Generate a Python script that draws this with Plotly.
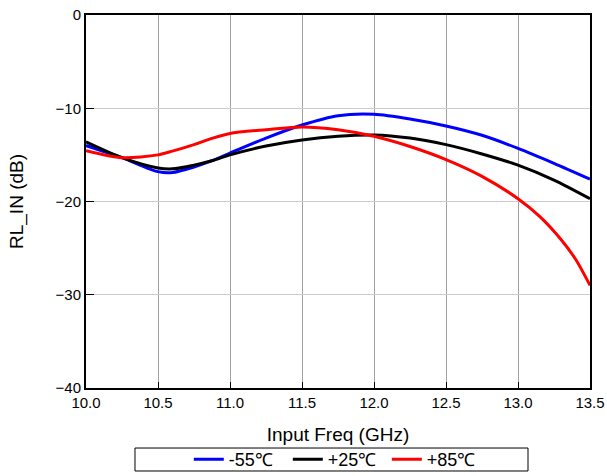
import plotly.graph_objects as go

freq = [10.0, 10.25, 10.5, 10.6, 10.75, 10.88, 11.0, 11.25, 11.5, 11.75, 12.0, 12.25, 12.5, 12.75, 13.0, 13.25, 13.5]
rl_m55 = [-14.0, -15.3, -16.8, -16.9, -16.3, -15.6, -14.8, -13.2, -11.8, -10.8, -10.65, -11.15, -11.9, -12.9, -14.3, -15.9, -17.6]
rl_p25 = [-13.6, -15.3, -16.4, -16.5, -16.1, -15.6, -15.0, -14.05, -13.4, -13.0, -12.87, -13.2, -13.9, -14.9, -16.1, -17.7, -19.7]

freq_85 = [10.0, 10.25, 10.5, 10.6, 10.75, 10.88, 11.0, 11.25, 11.5, 11.75, 12.0, 12.25, 12.5, 12.75, 13.0, 13.15, 13.3, 13.4, 13.5]
rl_p85 = [-14.55, -15.3, -15.0, -14.6, -13.9, -13.2, -12.7, -12.3, -12.0, -12.3, -13.0, -14.1, -15.5, -17.3, -19.7, -21.6, -24.1, -26.2, -29.0]

series = [("-55℃", freq, rl_m55, "#0000ff"), ("+25℃", freq, rl_p25, "#000000"), ("+85℃", freq_85, rl_p85, "#ff0000")]

fig = go.Figure()
for name, xs, vals, col in series:
    fig.add_trace(go.Scatter(x=xs, y=vals, mode="lines", name=name,
                             line=dict(color=col, width=3, shape="spline", smoothing=0.8)))

font = "Liberation Sans, Arial, sans-serif"
fig.add_shape(type="rect", xref="paper", yref="paper",
              x0=0.0972, x1=0.877, y0=-0.2225, y1=-0.1609,
              line=dict(color="black", width=1), fillcolor="rgba(0,0,0,0)")
fig.update_layout(
    width=607, height=476,
    margin=dict(l=86, r=17, t=15, b=88, autoexpand=False),
    paper_bgcolor="white", plot_bgcolor="white",
    font=dict(family=font, size=15, color="black"),
    showlegend=True,
    legend=dict(orientation="h", x=0.204, xanchor="left", y=-0.1917, yanchor="middle",
                borderwidth=0, bgcolor="rgba(0,0,0,0)", font=dict(size=18, family=font),
                entrywidth=54, entrywidthmode="pixels",
                tracegroupgap=0, traceorder="normal"),
    xaxis=dict(range=[10.0, 13.5], dtick=0.5, tickformat=".1f",
               showgrid=True, gridcolor="#a0a0a0", gridwidth=1,
               showline=True, linecolor="black", linewidth=2, mirror=True,
               ticks="inside", ticklen=6, tickcolor="black",
               title=dict(text="Input Freq (GHz)", font=dict(size=19), standoff=18),
               tickfont=dict(size=15), zeroline=False),
    yaxis=dict(range=[-40, 0], dtick=10,
               showgrid=True, gridcolor="#cccccc", gridwidth=1,
               showline=True, linecolor="black", linewidth=2, mirror=True,
               ticks="inside", ticklen=8, tickcolor="black",
               title=dict(text="RL_IN (dB)", font=dict(size=19), standoff=27),
               tickfont=dict(size=15), zeroline=False),
)

fig.write_html("out.html")
